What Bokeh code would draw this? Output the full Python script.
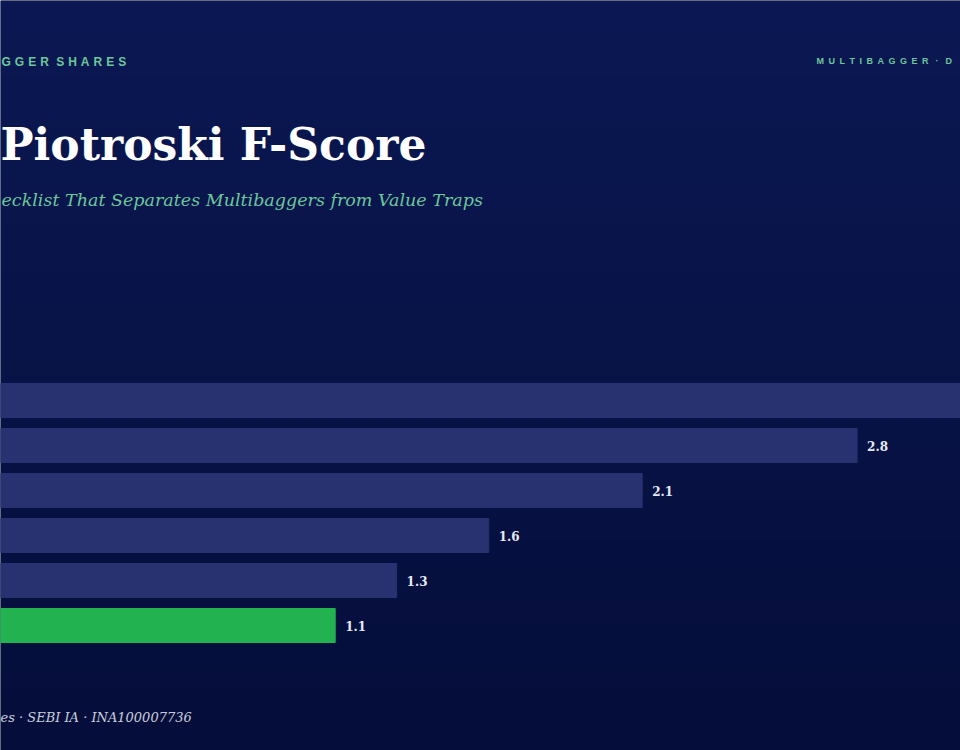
import numpy as np
from bokeh.plotting import figure
from bokeh.models import Range1d, ColumnDataSource
from bokeh.core.properties import value
from bokeh.embed import file_html
from bokeh.resources import INLINE

# data (top bar runs past the right edge)
groups = ["A", "B", "C", "D", "E", "F"]
returns = [3.4, 2.8, 2.1, 1.6, 1.3, 1.1]
return_labels = ["3.4", "2.8", "2.1", "1.6", "1.3", "1.1"]
bar_colors = ["#283270", "#283270", "#283270", "#283270", "#283270", "#22b350"]

W, H = 960, 750
PX = 307.0  # pixels per unit on the value axis
vmin, vmax = 3 / PX, (W + 3) / PX

p = figure(width=W, height=H, output_backend="svg", toolbar_location=None,
           x_range=Range1d(0, W), y_range=Range1d(H, 0), min_border=0,
           outline_line_color=None)
p.extra_x_ranges = {"val": Range1d(vmin, vmax)}
p.axis.visible = False
p.grid.visible = False
p.background_fill_color = "#08143f"
p.border_fill_color = "#08143f"

# vertical gradient background
top = np.array([11, 24, 83])
bot = np.array([5, 14, 58])
t = np.linspace(0, 1, 200)[:, None]
rgb = (top * (1 - t) + bot * t).astype(np.uint32)
img = (255 << 24) | (rgb[:, 2] << 16) | (rgb[:, 1] << 8) | rgb[:, 0]
img = np.repeat(img[:, None], 2, axis=1)
p.image_rgba(image=[img], x=0, y=0, dw=W, dh=H)

# bars
ys = [400 + 45 * i for i in range(len(groups))]
src = ColumnDataSource(dict(y=ys, right=returns, color=bar_colors))
p.hbar(y="y", left=0, right="right", height=34, color="color", source=src, x_range_name="val")

# value labels, only where they fall inside the picture
lab = dict(y=[], x=[], text=[])
for y, v, s in zip(ys, returns, return_labels):
    lx = v + 10 / PX
    if lx + 25 / PX < vmax:
        lab["y"].append(y)
        lab["x"].append(lx)
        lab["text"].append(s)
p.text(x="x", y="y", text="text", source=ColumnDataSource(lab), x_range_name="val",
       text_font=value("DejaVu Serif"), text_font_style="bold", text_font_size="12px",
       text_color="#e6e9f4", text_baseline="middle")

# header texts
p.text(x=[1], y=[61], text=["G\u2004G\u2004E\u2004R\u2004 S\u2004H\u2004A\u2004R\u2004E\u2004S"],
       text_font=value("Liberation Sans"), text_font_style="bold", text_font_size="12px",
       text_color="#6cc79a", text_baseline="middle")
p.text(x=[816], y=[60], text=["M\u2002U\u2002L\u2002T\u2002I\u2002B\u2002A\u2002G\u2002G\u2002E\u2002R\u2002 \u00b7 \u2002D"],
       text_font=value("Liberation Sans"), text_font_style="bold", text_font_size="9px",
       text_color="#6cc79a", text_baseline="middle")
p.text(x=[0], y=[144], text=["Piotroski F-Score"],
       text_font=value("DejaVu Serif"), text_font_style="bold", text_font_size="44px",
       text_color="#ffffff", text_baseline="middle")
p.text(x=[1], y=[199], text=["ecklist That Separates Multibaggers from Value Traps"],
       text_font=value("DejaVu Serif"), text_font_style="italic", text_font_size="17.5px",
       text_color="#6cc79a", text_baseline="middle")
p.text(x=[0], y=[717], text=["es \u00b7 SEBI IA \u00b7 INA100007736"],
       text_font=value("DejaVu Serif"), text_font_style="italic", text_font_size="13px",
       text_color="#c9cede", text_baseline="middle")

open("out.html", "w").write(file_html(p, INLINE))
